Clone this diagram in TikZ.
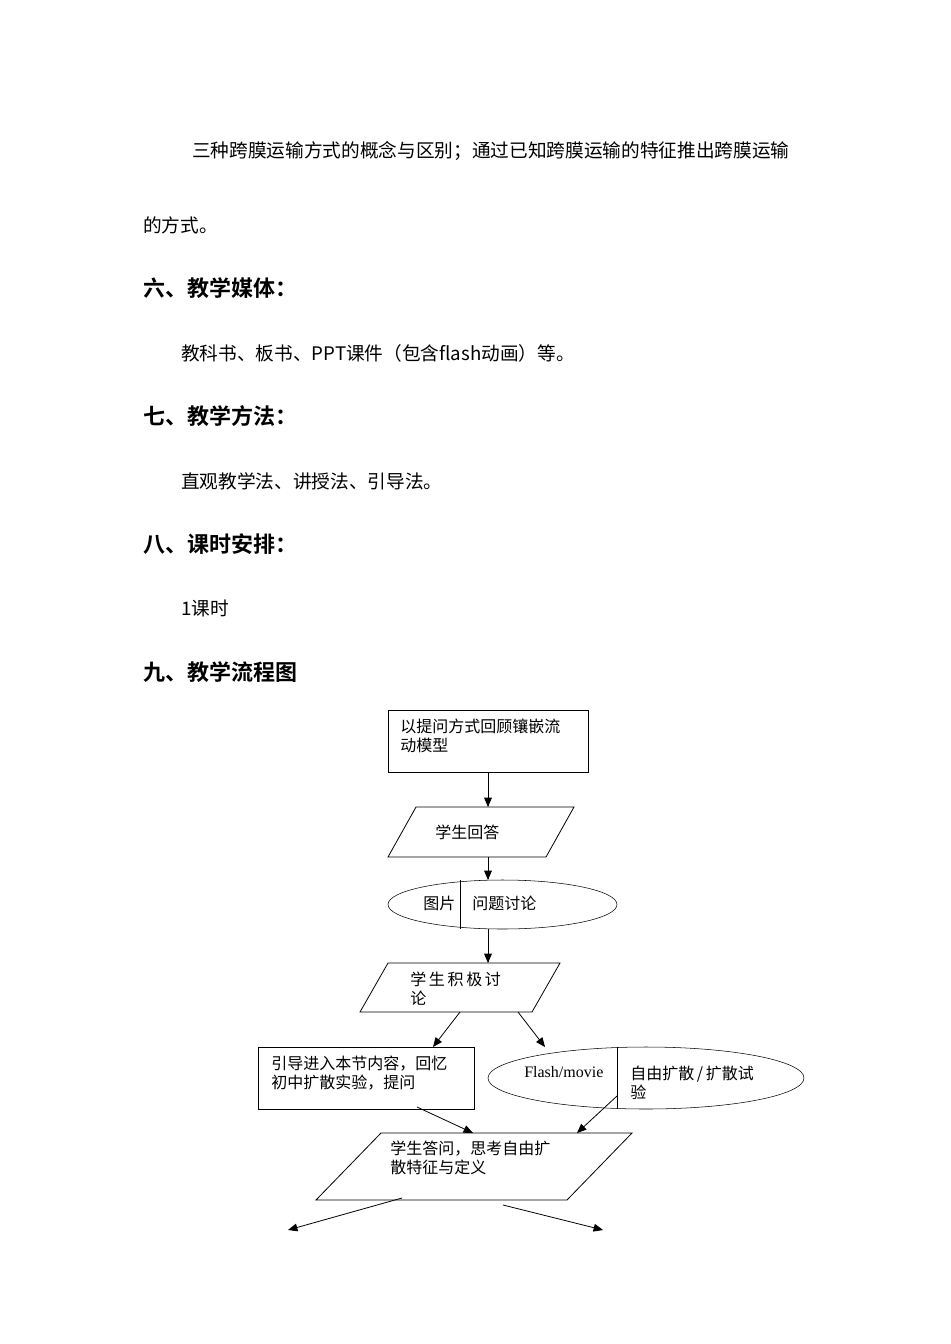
\documentclass[tikz,border=0pt]{standalone}
\usepackage{fontspec}
\setmainfont{Noto Sans CJK SC}[BoldFont={Noto Sans CJK SC Bold}]
\newfontfamily\latinserif{Liberation Serif}
\usetikzlibrary{arrows,shapes.geometric}

\begin{document}
\begin{tikzpicture}[x=0.75pt,y=-0.75pt,>=triangle 45]
    \tikzstyle{body}=[anchor=west,inner sep=0pt,font=\fontsize{14pt}{16pt}\selectfont]
    \tikzstyle{head}=[anchor=west,inner sep=0pt,font=\fontsize{16.5pt}{18pt}\selectfont\bfseries]
    \tikzstyle{flow}=[anchor=west,inner sep=0pt,font=\fontsize{12pt}{14pt}\selectfont,align=left]
    \tikzstyle{oval}=[ellipse,draw,inner sep=0pt]
    \tikzstyle{line}=[draw,->,line width=0.6pt]
    \useasboundingbox[fill=white] (0,0) rectangle (950,1344);

    % Page text
    \node[body] (t1) at (192,151) {三种跨膜运输方式的概念与区别；通过已知跨膜运输的特征推出跨膜运输};
    \node[body] (t2) at (143,225) {的方式。};
    \node[head] (h6) at (143,288) {六、教学媒体：};
    \node[body] (t3) at (181,353) {教科书、板书、PPT课件（包含flash动画）等。};
    \node[head] (h7) at (143,416) {七、教学方法：};
    \node[body] (t4) at (181,481) {直观教学法、讲授法、引导法。};
    \node[head] (h8) at (143,544) {八、课时安排：};
    \node[body] (t5) at (181,608) {1课时};
    \node[head] (h9) at (143,672) {九、教学流程图};

    % Step 1: box
    \draw[line width=0.6pt] (388,710) rectangle (588,772);
    \node[flow] (s1) at (400,736) {以提问方式回顾镶嵌流\\动模型};
    \coordinate (s1b) at (488,772);

    % Step 2: parallelogram
    \draw[line width=0.6pt] (416,807) -- (574,807) -- (546,857) -- (388,857) -- cycle;
    \coordinate (s2t) at (488,807);
    \coordinate (s2b) at (488,857);
    \node[flow] (s2) at (435,832) {学生回答};

    % Step 3: ellipse with divider
    \node[oval,minimum width=229*0.75pt,minimum height=49*0.75pt] (s3) at (502.5,904.5) {};
    \draw[line width=0.6pt] (460,880) -- (460,929);
    \node[flow] (s3a) at (423,903) {图片};
    \node[flow] (s3b) at (472,903) {问题讨论};
    \coordinate (s3t) at (488,880);
    \coordinate (s3b) at (488,929);

    % Step 4: parallelogram
    \draw[line width=0.6pt] (388,963) -- (560,963) -- (532,1012) -- (360,1012) -- cycle;
    \coordinate (s4t) at (488,963);
    \node[flow] (s4) at (410,989) {学\,生\,积\,极\,讨\\论};
    \coordinate (s4l) at (460,1012);
    \coordinate (s4r) at (518,1012);

    % Step 5: box and ellipse
    \draw[line width=0.6pt] (258,1047) rectangle (474,1109);
    \node[flow] (s5) at (271,1073) {引导进入本节内容，回忆\\初中扩散实验，提问};
    \coordinate (s5t) at (433,1047);
    \coordinate (s5b) at (417,1107);
    \node[oval,minimum width=316*0.75pt,minimum height=62*0.75pt] (s6) at (646,1078) {};
    \draw[line width=0.6pt] (617,1047) -- (617,1109);
    \node[flow,font=\fontsize{12pt}{14pt}\latinserif] (s6a) at (524,1072) {Flash/movie};
    \node[flow] (s6b) at (630,1083) {自由扩散\,/\,扩散试\\验};
    \coordinate (s6t) at (545,1047);
    \coordinate (s6b) at (617,1096);

    % Step 6: parallelogram
    \draw[line width=0.6pt] (381,1133) -- (632,1133) -- (567,1200) -- (316,1200) -- cycle;
    \node[flow] (s7) at (390,1158) {学生答问，思考自由扩\\散特征与定义};
    \coordinate (s7l) at (473,1133);
    \coordinate (s7r) at (577,1133);
    \coordinate (s7a) at (402,1198);
    \coordinate (s7b) at (503,1205);
    \coordinate (e1) at (288,1230);
    \coordinate (e2) at (603,1230);

    % Connectors
    \path[line] (s1b) -- (s2t);
    \path[line] (s2b) -- (s3t);
    \path[line] (s3b) -- (s4t);
    \path[line] (s4l) -- (s5t);
    \path[line] (s4r) -- (s6t);
    \path[line] (s5b) -- (s7l);
    \path[line] (s6b) -- (s7r);
    \path[line] (s7a) -- (e1);
    \path[line] (s7b) -- (e2);
\end{tikzpicture}
\end{document}
